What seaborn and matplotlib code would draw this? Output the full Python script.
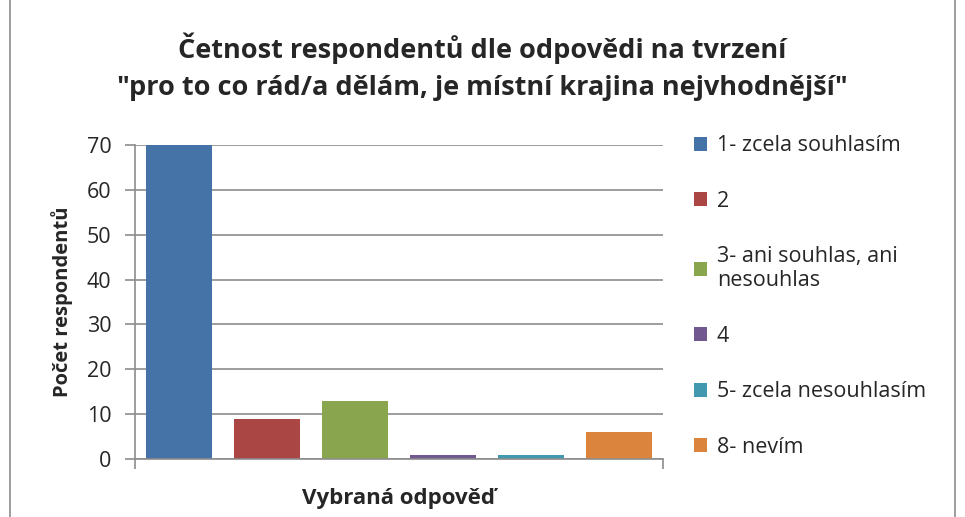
import matplotlib
matplotlib.use("Agg")
import matplotlib.pyplot as plt
import seaborn as sns
import pandas as pd
from matplotlib.patches import Rectangle

categories = ["1- zcela souhlasím", "2", "3- ani souhlas, ani\nnesouhlas", "4",
              "5- zcela nesouhlasím", "8- nevím"]
counts = [70, 9, 13, 1, 1, 6]
colors = ["#4572A7", "#AA4643", "#89A54E", "#71588F", "#4198AF", "#DB843D"]
yticks = [0, 10, 20, 30, 40, 50, 60, 70]

title = 'Četnost respondentů dle odpovědi na tvrzení\n"pro to co rád/a dělám, je místní krajina nejvhodnější"'

sns.set_style("white")
plt.rcParams["font.family"] = ["Open Sans", "DejaVu Sans"]

df = pd.DataFrame({"odpoved": categories, "pocet": counts})

fig = plt.figure(figsize=(9.65, 5.17), dpi=100)
ax = fig.add_axes([0.1399, 0.1122, 0.547, 0.6073])

sns.barplot(data=df, x="odpoved", y="pocet", hue="odpoved", palette=colors,
            width=0.75, saturation=1, linewidth=0, legend=True, ax=ax)

ax.set_ylim(0, 70)
ax.set_xlim(-0.5, 5.5)
ax.set_yticks(yticks)
ax.set_yticklabels([str(t) for t in yticks], fontsize=15.5)
ax.set_xticks([-0.5, 5.5])
ax.set_xticklabels(["", ""])
ax.yaxis.grid(True, color="#8c8c8c", linewidth=1.2)
ax.set_axisbelow(True)
for s in ["top", "right"]:
    ax.spines[s].set_visible(False)
for s in ["left", "bottom"]:
    ax.spines[s].set_color("#8c8c8c")
    ax.spines[s].set_linewidth(1.2)
ax.tick_params(axis="both", direction="out", length=7, width=1.2, color="#8c8c8c",
               left=True, bottom=True, pad=10)

ax.set_ylabel("Počet respondentů", fontsize=14.5, fontweight="bold", labelpad=10)
ax.set_xlabel("Vybraná odpověď", fontsize=16, fontweight="bold", labelpad=4)

fig.suptitle(title, fontsize=19.5, fontweight="bold", y=0.938, linespacing=1.55)

handles, labels = ax.get_legend_handles_labels()
ax.legend(handles, labels, loc="upper left", bbox_to_anchor=(0.710, 0.755),
          bbox_transform=fig.transFigure, frameon=False, fontsize=15.5,
          handlelength=0.62, handleheight=0.62, handletextpad=0.45,
          labelspacing=1.6, borderaxespad=0)

fig.patches.append(Rectangle((0.0104, -0.01), 0.979, 1.02, transform=fig.transFigure,
                             fill=False, edgecolor="#8c8c8c", linewidth=1.2))

fig.savefig("out.png", dpi=100)
